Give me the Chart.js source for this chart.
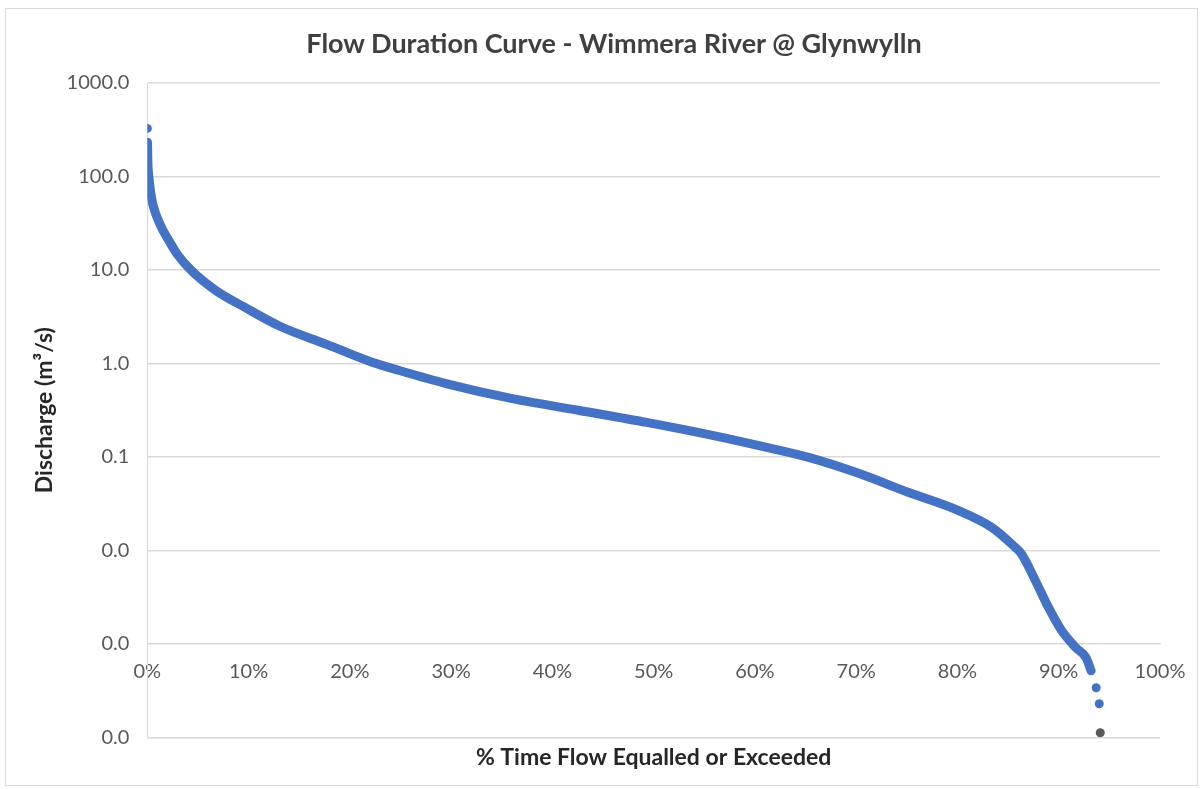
<!DOCTYPE html>
<html>
<head>
<meta charset="utf-8">
<title>Flow Duration Curve</title>
<script src="https://cdn.jsdelivr.net/npm/chart.js@4.4.1/dist/chart.umd.min.js"></script>
<style>
  html, body { margin: 0; padding: 0; background: #fff; }
  #wrap { position: relative; width: 1203px; height: 789px; }
  #frame { position: absolute; left: 5px; top: 8px; width: 1191px; height: 776px; border: 1px solid #d9d9d9; pointer-events: none; }
  #title {
    position: absolute; left: 0; top: 26px; width: 1228px; text-align: center;
    font: bold 27px Lato, "Open Sans", sans-serif; color: #404040;
  }
</style>
</head>
<body>
<div id="wrap">
  <canvas id="fdc"></canvas>
  <div id="title">Flow Duration Curve - Wimmera River @ Glynwylln</div>
  <div id="frame"></div>
</div>
<script>
// % of time flow equalled or exceeded, and discharge (m3/s)
const flowPct = [0.02, 0.05, 0.15, 0.35, 0.55, 1.3, 2.2, 3.0, 4.3, 6.8, 9.6, 13.1, 17.7, 22.2, 24.9,
  29.5, 36.05, 42.65, 49.3, 55.8, 60.4, 65.3, 70.3, 75.2, 80.1, 83.4,
  85.5, 86.3, 87.7, 89.0, 90.3, 91.7, 92.7, 93.2];
const discharge = [232, 150, 100, 66, 50, 30, 20, 14.5, 10, 6.0, 4.0, 2.5, 1.6, 1.03, 0.84,
  0.61, 0.42, 0.314, 0.234, 0.17, 0.132, 0.099, 0.0665, 0.0416, 0.0267, 0.0176,
  0.0113, 0.00925, 0.00475, 0.00244, 0.00138, 0.00091, 0.00071, 0.000516];

// isolated markers at either end of the record
const outlierPct = [0, 93.7, 94.0];
const outlierQ = [327, 0.00034, 0.000229];
const lowestPct = [94.1];
const lowestQ = [0.000112];

const yTicks = [1000, 100, 10, 1, 0.1, 0.01, 0.001, 0.0001];
const xTickStep = 10;

const BLUE = '#4472c4';
const GRID = '#d9d9d9';
const TEXT = '#595959';
const FONT = 'Lato, "Open Sans", sans-serif';

const toPoints = (xs, ys) => xs.map((x, i) => ({ x, y: ys[i] }));

new Chart(document.getElementById('fdc'), {
  type: 'scatter',
  data: {
    datasets: [
      {
        data: toPoints(flowPct, discharge),
        showLine: true,
        borderColor: BLUE,
        backgroundColor: BLUE,
        borderWidth: 9,
        borderCapStyle: 'round',
        borderJoinStyle: 'round',
        cubicInterpolationMode: 'monotone',
        pointRadius: 0,
      },
      {
        data: toPoints(outlierPct, outlierQ),
        backgroundColor: BLUE,
        borderWidth: 0,
        pointRadius: 4.5,
      },
      {
        data: toPoints(lowestPct, lowestQ),
        backgroundColor: '#595959',
        borderWidth: 0,
        pointRadius: 4.5,
      },
    ],
  },
  options: {
    responsive: true,
    maintainAspectRatio: false,
    animation: false,
    layout: { padding: { top: 83, right: 43, bottom: 18, left: 31 } },
    plugins: {
      legend: { display: false },
      tooltip: { enabled: false },
      title: { display: false },
    },
    scales: {
      x: {
        type: 'linear',
        min: 0,
        max: 100,
        position: { y: 0.001 },
        afterFit: s => { s.height = 0; },
        grid: { display: false, drawTicks: false },
        border: { color: GRID },
        ticks: {
          stepSize: xTickStep,
          color: TEXT,
          padding: 16,
          font: { family: FONT, size: 20 },
          callback: v => v + '%',
        },
      },
      x2: {
        type: 'linear',
        min: 0,
        max: 100,
        position: 'bottom',
        grid: { display: false, drawTicks: false },
        border: { display: false },
        ticks: { display: false },
        title: {
          display: true,
          text: '% Time Flow Equalled or Exceeded',
          color: '#262626',
          font: { family: FONT, size: 23, weight: 'bold' },
          padding: { top: 6, bottom: 0 },
        },
      },
      y: {
        type: 'logarithmic',
        min: 0.0001,
        max: 1000,
        afterBuildTicks: s => { s.ticks = yTicks.map(v => ({ value: v })); },
        grid: { color: GRID, lineWidth: 1.5, drawTicks: false },
        border: { color: GRID },
        ticks: {
          color: TEXT,
          padding: 18,
          font: { family: FONT, size: 20 },
          callback: v => Number(v).toFixed(1),
        },
        title: {
          display: true,
          text: 'Discharge (m³/s)',
          color: '#262626',
          font: { family: FONT, size: 23, weight: 'bold' },
          padding: { top: 0, bottom: -10 },
        },
      },
    },
  },
});
</script>
</body>
</html>
